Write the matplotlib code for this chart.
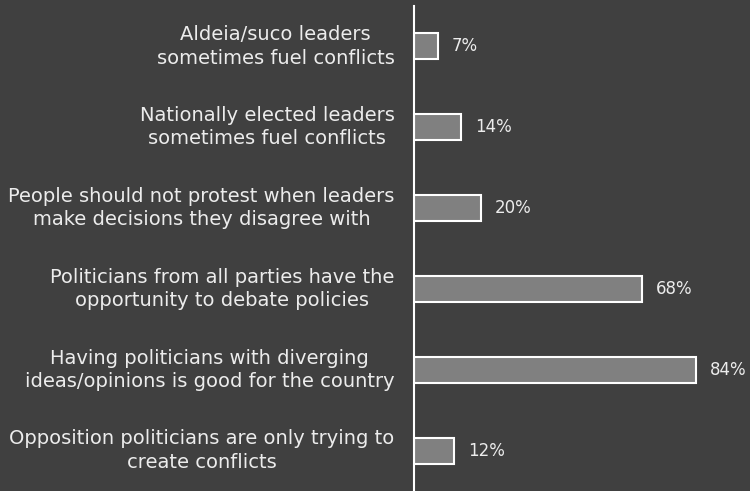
import matplotlib.pyplot as plt

# dados do grafico (de cima para baixo)
labels = [
    "Aldeia/suco leaders\nsometimes fuel conflicts",
    "Nationally elected leaders\nsometimes fuel conflicts",
    "People should not protest when leaders\nmake decisions they disagree with",
    "Politicians from all parties have the\nopportunity to debate policies",
    "Having politicians with diverging\nideas/opinions is good for the country",
    "Opposition politicians are only trying to\ncreate conflicts",
]
values = [7, 14, 20, 68, 84, 12]

bg = "#404040"
txt = "#ececec"

fig = plt.figure(figsize=(7.5, 4.91), dpi=100, facecolor=bg)
ax = fig.add_axes([414 / 750, 0, 336 / 750, 485 / 491])
ax.set_facecolor(bg)

pos = list(range(len(values)))
ax.barh(pos, values, height=0.32, color="#808080", edgecolor="white", linewidth=1.5)
ax.set_ylim(len(values) - 0.5, -0.5)
ax.set_xlim(0, 100)

for p, v in zip(pos, values):
    ax.annotate(f"{v}%", (v, p), xytext=(10, 0), textcoords="offset points",
                va="center", ha="left", color=txt, fontsize=12, family="DejaVu Sans")

for p, lab in zip(pos, labels):
    ax.annotate(lab, (0, p), xytext=(-14, 0), textcoords="offset points",
                va="center", ha="right", multialignment="center",
                color=txt, fontsize=14, family="DejaVu Sans", linespacing=1.3)

for s in ["top", "right", "bottom"]:
    ax.spines[s].set_visible(False)
ax.spines["left"].set_color("white")
ax.spines["left"].set_linewidth(1.5)
ax.set_xticks([])
ax.set_yticks([])

fig.savefig("out.png", dpi=100, facecolor=bg)
